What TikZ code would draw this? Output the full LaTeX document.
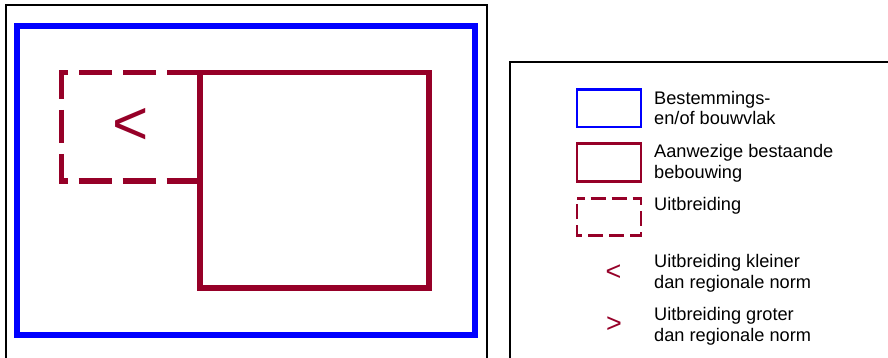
\documentclass[tikz,border=0pt]{standalone}
\usepackage{fontspec}
\setmainfont{Liberation Sans}
\definecolor{bouwrood}{RGB}{150,0,40}
\definecolor{vlakblauw}{RGB}{0,0,255}
\begin{document}
\begin{tikzpicture}[x=1pt,y=-1pt,
  frame/.style={draw=black,line width=2pt},
  vlak/.style={draw=vlakblauw,line width=6pt},
  bestaand/.style={draw=bouwrood,line width=5.5pt},
  uitbr/.style={draw=bouwrood,line width=5.5pt,dash pattern=on 33pt off 11pt},
  legvlak/.style={draw=vlakblauw,line width=2.6pt},
  legbest/.style={draw=bouwrood,line width=2.6pt},
  leguitbr/.style={draw=bouwrood,line width=2.6pt,dash pattern=on 15pt off 6pt,dash phase=7.5pt},
  legtxt/.style={anchor=base west,inner sep=0pt,font=\fontsize{18.2}{21}\selectfont},
  bigsym/.style={text=bouwrood,inner sep=0pt,font=\fontsize{62}{62}\selectfont},
  smallsym/.style={text=bouwrood,inner sep=0pt,font=\fontsize{27}{27}\selectfont}]
\useasboundingbox (0,0) rectangle (888,358);
% left panel
\draw[frame] (6,362) -- (6,5) -- (487,5) -- (487,362);
\draw[vlak] (16.5,26.5) rectangle (475,334.5);
\coordinate (ut) at (200,72.5);
\coordinate (ub) at (200,181);
\draw[uitbr] (ut) -- (61.5,72.5) -- (61.5,181) -- (ub);
\draw[bestaand] (200,72.5) rectangle (429,288);
\node[bigsym] (kleiner) at (131,126) {<};
% right panel (legend)
\draw[frame] (510,362) -- (510,62) -- (892,62);
\draw[legvlak] (577,89.5) rectangle (641,127);
\draw[legbest] (577,143.5) rectangle (641,181.5);
\draw[leguitbr] (577,198.5) -- (641,198.5) -- (641,235.5) -- (577,235.5) -- cycle;
\node[smallsym] (lk) at (613.5,272.5) {<};
\node[smallsym] (lg) at (614,325) {>};
\node[legtxt] (t1a) at (654,104.3) {Bestemmings-};
\node[legtxt] (t1b) at (654,125) {en/of bouwvlak};
\node[legtxt] (t2a) at (654,157.7) {Aanwezige bestaande};
\node[legtxt] (t2b) at (654,178.3) {bebouwing};
\node[legtxt] (t3a) at (654,210.7) {Uitbreiding};
\node[legtxt] (t4a) at (654,267.3) {Uitbreiding kleiner};
\node[legtxt] (t4b) at (654,288.5) {dan regionale norm};
\node[legtxt] (t5a) at (654,320.5) {Uitbreiding groter};
\node[legtxt] (t5b) at (654,341.7) {dan regionale norm};
\end{tikzpicture}
\end{document}
